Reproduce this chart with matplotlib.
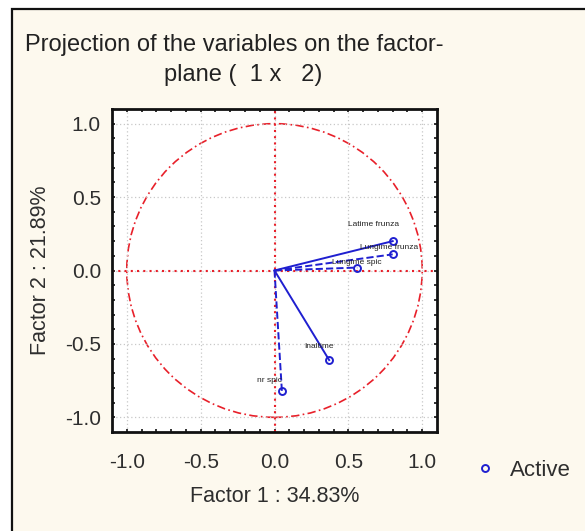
import numpy as np
import matplotlib.pyplot as plt
from matplotlib.patches import Rectangle, Circle

# variable coordinates on factor 1 x factor 2
var_names = ['Latime frunza', 'Lungime frunza', 'Lungime spic', 'Inaltime', 'nr spic']
f1 = [0.80, 0.80, 0.56, 0.37, 0.05]
f2 = [0.20, 0.11, 0.02, -0.61, -0.82]
line_styles = ['-', '--', '--', '-', '--']
label_dx = [-0.30, -0.22, -0.17, -0.17, -0.17]
label_dy = [0.11, 0.05, 0.035, 0.09, 0.07]

x_ticks = [-1.0, -0.5, 0.0, 0.5, 1.0]
y_ticks = [-1.0, -0.5, 0.0, 0.5, 1.0]

W, H = 585, 531
bg = '#fdf9ee'
blue = '#1f1fd0'
red = '#e8202a'
txt = '#2e2e2e'

plt.rcParams['font.family'] = ['Liberation Sans', 'DejaVu Sans']
fig = plt.figure(figsize=(W / 100, H / 100), dpi=100)
fig.patch.set_facecolor('white')
fig.patches.append(Rectangle((12 / W, -0.1), 1.2, 1 - 9 / H + 0.1,
                             transform=fig.transFigure, facecolor=bg,
                             edgecolor='#111111', linewidth=1.6, zorder=-1))

ax = fig.add_axes([112 / W, 1 - 432 / H, 325 / W, 323 / H])
ax.set_facecolor('white')
ax.set_xlim(-1.1, 1.1)
ax.set_ylim(-1.1, 1.1)

ax.grid(True, color='#c8c8c8', linestyle=(0, (1, 2)), linewidth=0.9)
ax.set_xticks(x_ticks)
ax.set_yticks(y_ticks)
ax.set_xticklabels(['%.1f' % v for v in x_ticks])
ax.set_yticklabels(['%.1f' % v for v in y_ticks])
ax.set_xticks(np.arange(-1.0, 1.01, 0.1), minor=True)
ax.set_yticks(np.arange(-1.0, 1.01, 0.1), minor=True)
ax.tick_params(which='both', direction='in', top=True, right=True,
               length=2.5, width=1.2, color='#111111')
ax.tick_params(axis='x', which='major', labelsize=15, pad=15, labelcolor=txt)
ax.tick_params(axis='y', which='major', labelsize=15, pad=8, labelcolor=txt)
for s in ax.spines.values():
    s.set_linewidth(2)
    s.set_color('#111111')

# unit circle and axes through the origin
ax.add_patch(Circle((0, 0), 1.0, fill=False, edgecolor=red,
                    linestyle=(0, (5, 2, 1, 2)), linewidth=1.2))
ax.axhline(0, color=red, linestyle=(0, (1, 2)), linewidth=1.5)
ax.axvline(0, color=red, linestyle=(0, (1, 2)), linewidth=1.5)

for i in range(len(var_names)):
    ax.plot([0, f1[i]], [0, f2[i]], linestyle=line_styles[i], color=blue, linewidth=1.4)
    ax.text(f1[i] + label_dx[i], f2[i] + label_dy[i], var_names[i],
            fontsize=6, color='#222222', va='center', ha='left')
ax.plot(f1, f2, 'o', markersize=5, markerfacecolor='none',
        markeredgecolor=blue, markeredgewidth=1.4, linestyle='none', label='Active')

ax.set_xlabel('Factor 1 : 34.83%', fontsize=15.5, color=txt, labelpad=10)
ax.set_ylabel('Factor 2 : 21.89%', fontsize=15.5, color=txt, labelpad=10)

fig.text(25 / W, 1 - 45 / H, 'Projection of the variables on the factor-',
         fontsize=17, color='#222222', va='center', ha='left')
fig.text(243 / W, 1 - 75 / H, 'plane (  1 x   2)',
         fontsize=17, color='#222222', va='center', ha='center')

leg = fig.legend(loc='center left', bbox_to_anchor=(476 / W, 1 - 470 / H),
                 frameon=False, fontsize=16, handletextpad=0.75, handlelength=0.8,
                 borderpad=0, borderaxespad=0)
for t in leg.get_texts():
    t.set_color(txt)

fig.savefig('out.png', dpi=100, facecolor=fig.get_facecolor())
